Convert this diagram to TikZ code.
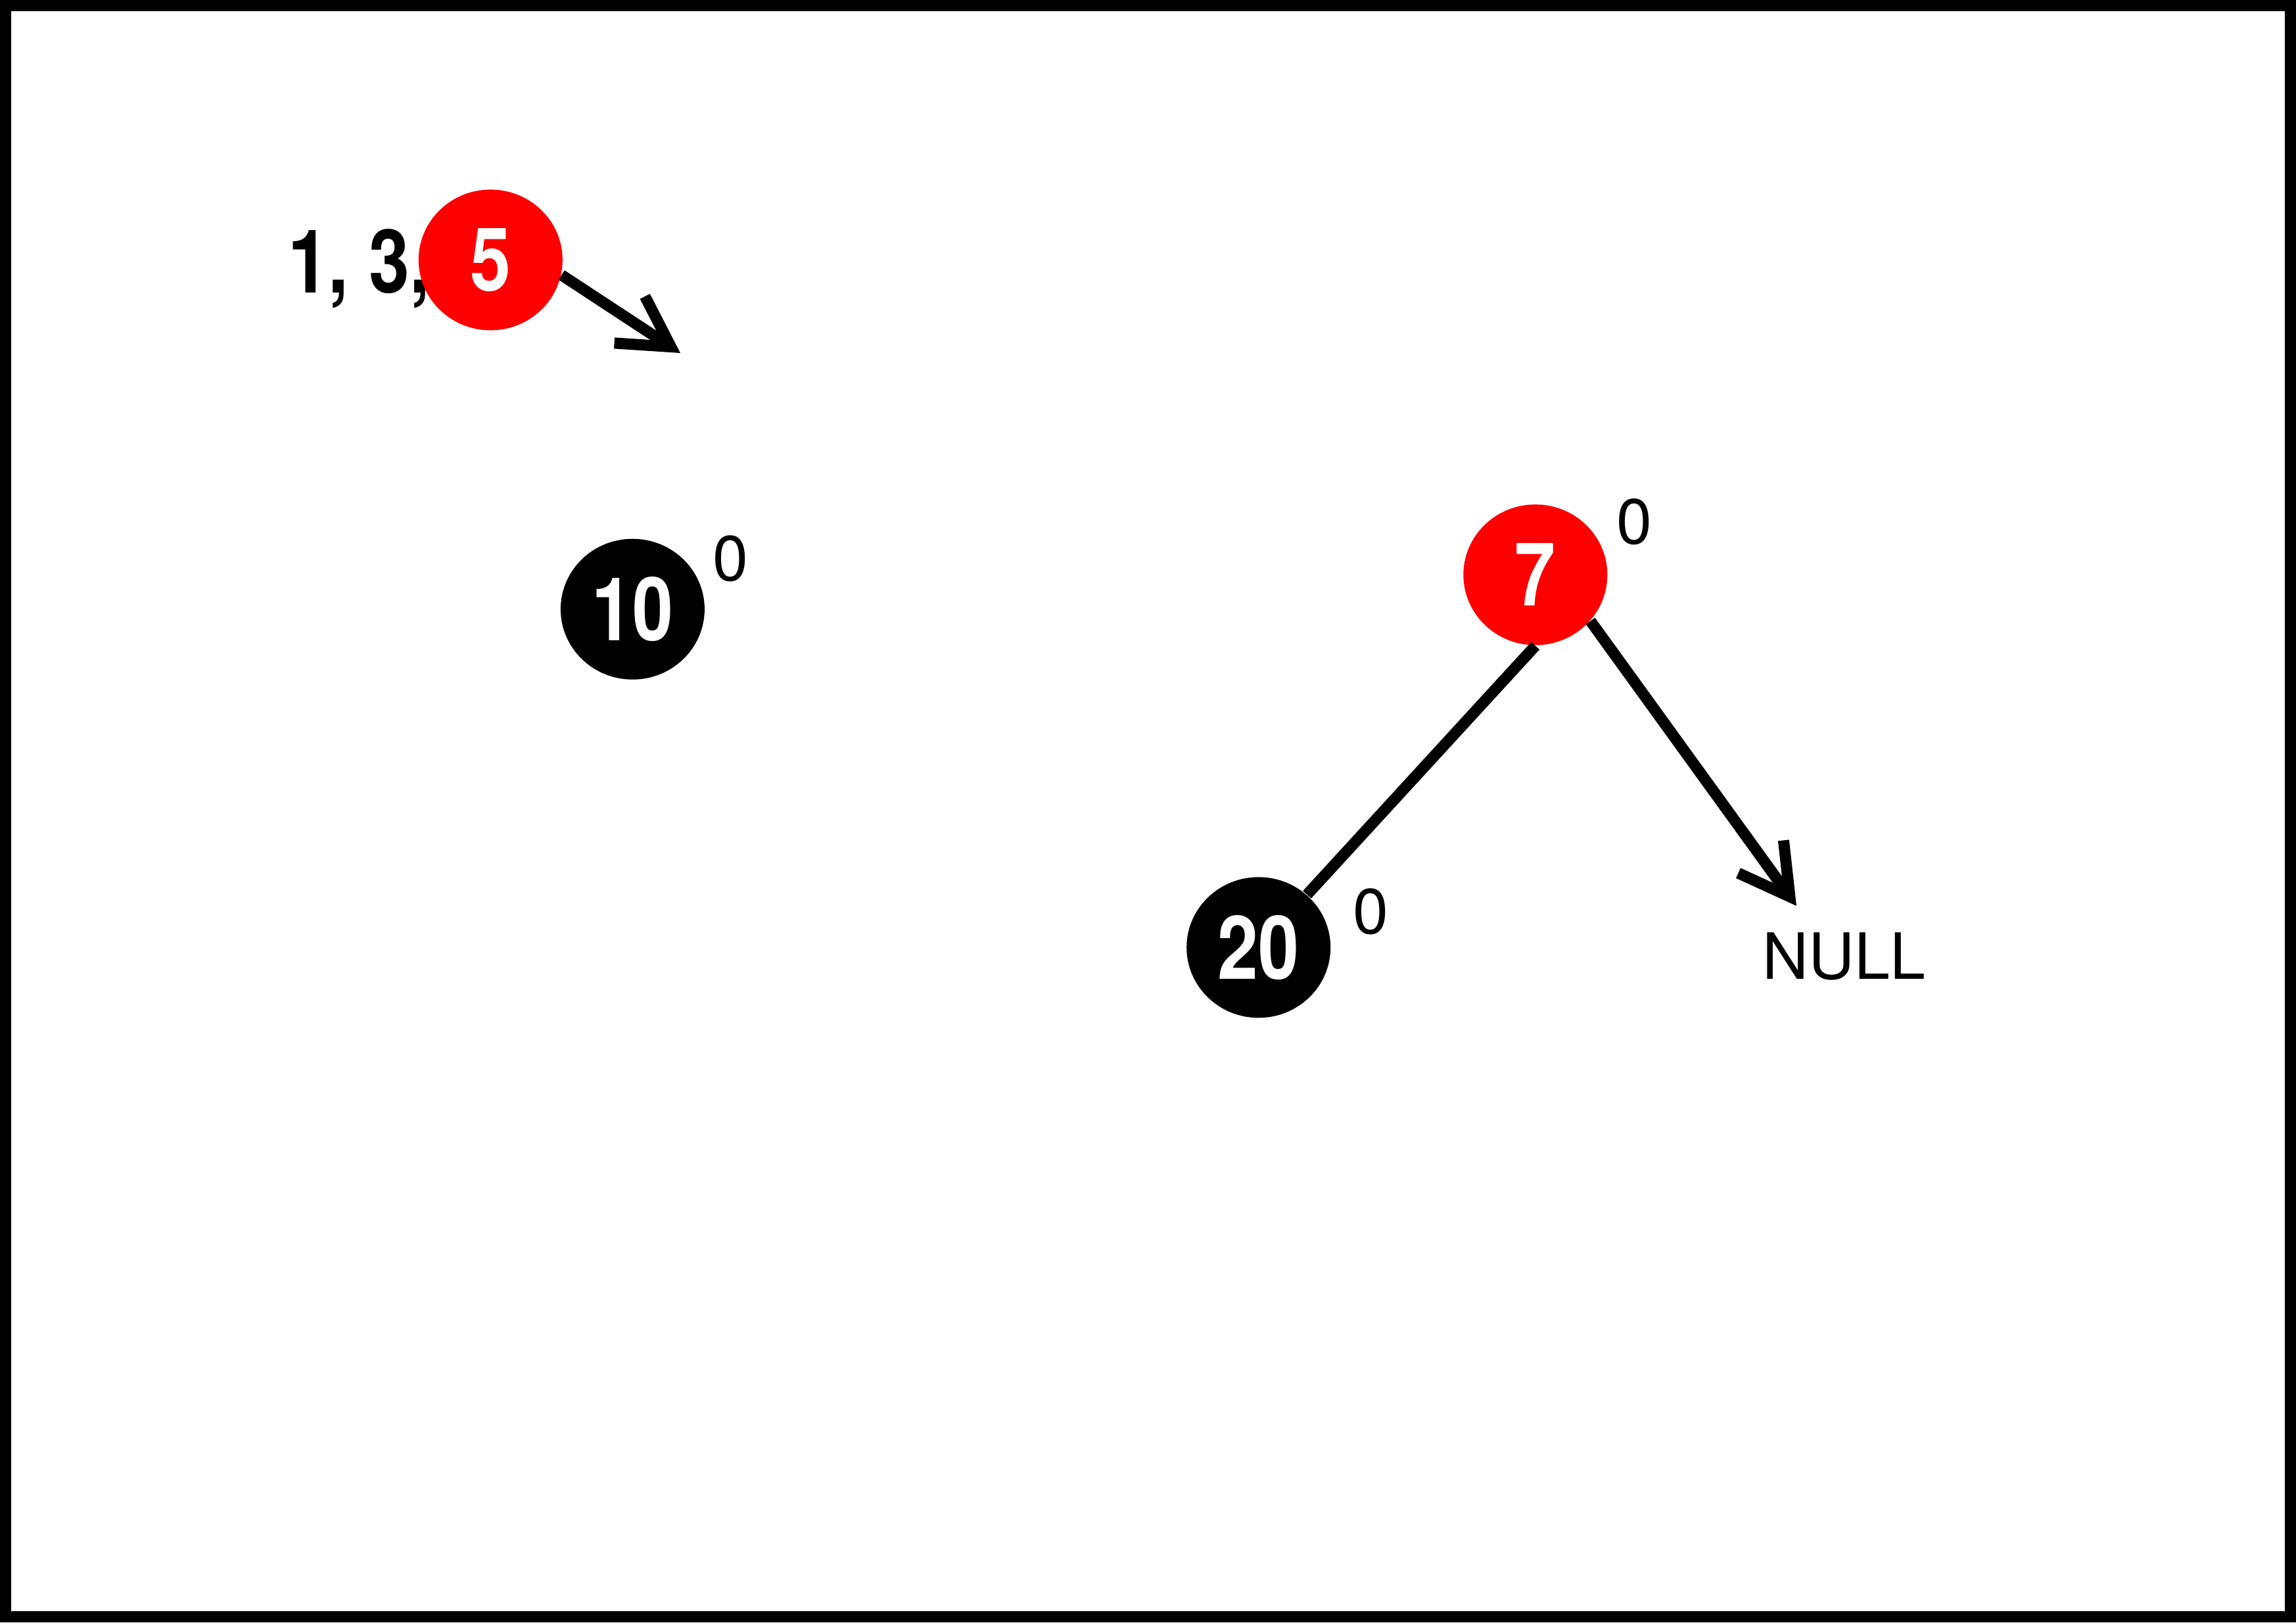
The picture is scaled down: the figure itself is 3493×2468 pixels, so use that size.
\documentclass[tikz,border=0pt]{standalone}
\usepackage{fontspec}
\setmainfont{TeX Gyre Heros}
\newfontfamily\bnumfam[FakeStretch=0.83]{TeX Gyre Heros}
\usetikzlibrary{arrows.meta,shapes.geometric}
\newcommand\bigboldnum{\bnumfam\bfseries\fontsize{26.8pt}{30pt}\selectfont}
\newcommand\smallreg{\fontsize{19.4pt}{22pt}\selectfont}
\tikzset{
  rbnode/.style={ellipse, minimum width=43.8pt, minimum height=42.8pt, inner sep=0pt, text=white, font=\bigboldnum},
  rednode/.style={rbnode, fill={rgb,255:red,255;green,0;blue,0}},
  blacknode/.style={rbnode, fill=black},
  supnum/.style={inner sep=0pt, font=\smallreg},
  conn/.style={line width=3.4pt},
  arr/.style={conn, -{Straight Barb[length=15pt,width=17pt,line join=miter,line cap=butt]}}
}
\begin{document}
\begin{tikzpicture}[x=0.2pt,y=-0.2pt]
\useasboundingbox (0,0) rectangle (3493,2468);
\draw[line width=3.4pt] (8.5,8.5) rectangle (3484.5,2459.5);
% list text, behind node 5
\node[inner sep=0pt, anchor=base west, font=\bigboldnum] (lst) at (437,445.5) {1, 3,};
% nodes
\node[rednode] (n5) at (746.3,395.4) {5};
\node[blacknode] (n10) at (962.4,926.7) {10};
\node[rednode] (n7) at (2335.8,874.4) {7};
\node[blacknode] (n20) at (1914.7,1441.3) {20};
% superscripts
\node[supnum] (s10) at (1111.6,849.9) {0};
\node[supnum] (s7) at (2486.1,794.2) {0};
\node[supnum] (s20) at (2085.1,1386.7) {0};
\node[supnum] (null) at (2805.8,1454.7) {NULL};
% connectors
\coordinate (t5) at (1035,537);
\coordinate (tnull) at (2733,1378);
\draw[arr] (n5.-12) -- (t5);
\draw[conn] (n7.south) -- (n20);
\draw[arr] (n7.-40.5) -- (tnull);
\end{tikzpicture}
\end{document}
